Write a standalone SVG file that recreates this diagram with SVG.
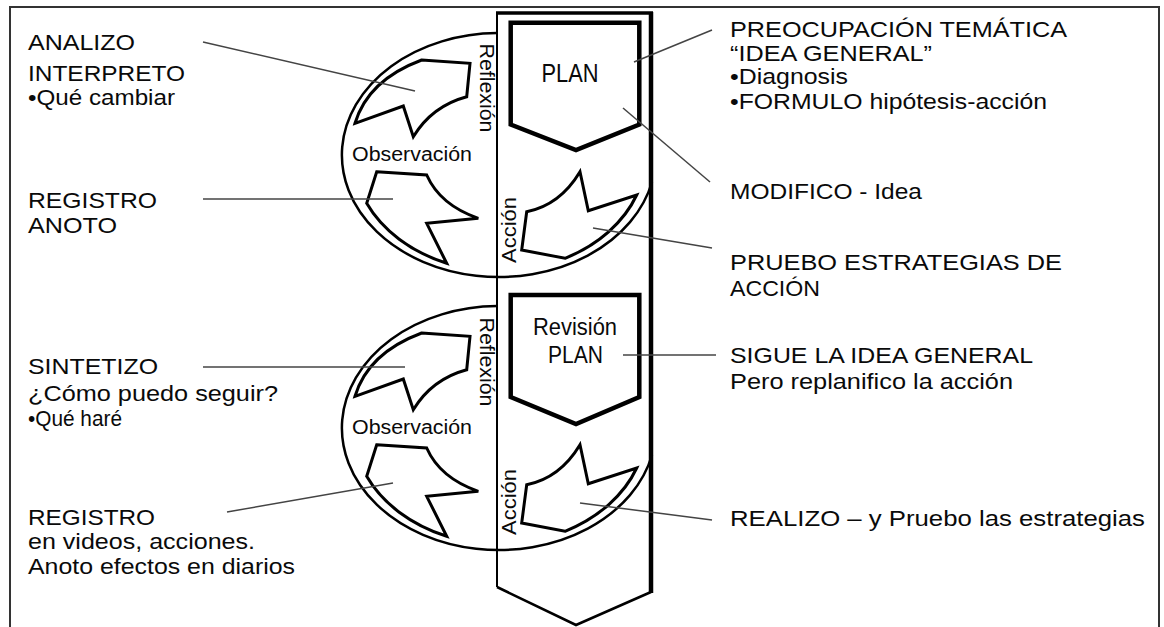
<svg xmlns="http://www.w3.org/2000/svg" width="1164" height="627" viewBox="0 0 1164 627">
<defs>
<style>
.t{font-family:"Liberation Sans",Arial,sans-serif;font-size:22px;fill:#0a0a0a}
.lbl{font-family:"Liberation Sans",Arial,sans-serif;font-size:20px;fill:#0a0a0a}
.ln{stroke:#444;stroke-width:1.5;fill:none}
.arr{fill:#fff;stroke:#000;stroke-width:3;stroke-linejoin:miter}
.ell{fill:none;stroke:#000;stroke-width:2.5}
.box{fill:#fff;stroke:#000;stroke-width:4.5;stroke-linejoin:miter}
</style>
</defs>
<rect width="1164" height="627" fill="#fff"/>
<path d="M10 627 V7 H1159 V627" fill="none" stroke="#333" stroke-width="2"/>

<g id="column">
<path d="M497 13 H651 V592 L576 625 L497 587 Z" fill="#fff" stroke="none"/>
<path d="M497 13 V587" stroke="#000" stroke-width="2" fill="none"/>
<path d="M496 13 H653" stroke="#000" stroke-width="3.5" fill="none"/>
<path d="M651 12 V593" stroke="#000" stroke-width="4.5" fill="none"/>
<path d="M497 587 L576 625 L651 592" stroke="#000" stroke-width="2.5" fill="none"/>
</g>

<g id="cycle-top">
<path class="ell" d="M497 33 A157 122 0 1 0 652 182"/>
<path class="arr" d="M421.7 60 L470 63.3 L466.7 96.7 Q432 106 413.3 136.7 L403.3 106 L355 123.3 Q368 80 421.7 60 Z"/>
<path class="arr" d="M376.7 171.7 L426.7 175 Q440 205 478.3 218.3 L426.7 223.3 L446.7 263.3 A151 116 0 0 1 366.7 203.3 Z"/>
<path class="arr" d="M580 171.7 L588.3 210.7 L636.7 195 A151 116 0 0 1 565 258.3 L521.7 250 L526.7 211.7 Q560 205 580 171.7 Z"/>
<text class="lbl" x="352" y="161" textLength="120" lengthAdjust="spacingAndGlyphs">Observación</text>
<text class="lbl" transform="translate(487 88) rotate(90)" x="0" y="7" text-anchor="middle" textLength="89" lengthAdjust="spacingAndGlyphs">Reflexión</text>
<text class="lbl" transform="translate(508.5 230) rotate(-90)" x="0" y="7" text-anchor="middle" textLength="66" lengthAdjust="spacingAndGlyphs">Acción</text>
</g>

<g id="cycle-bottom" transform="translate(0 273)">
<path class="ell" d="M497 33 A157 122 0 1 0 652 182"/>
<path class="arr" d="M421.7 60 L470 63.3 L466.7 96.7 Q432 106 413.3 136.7 L403.3 106 L355 123.3 Q368 80 421.7 60 Z"/>
<path class="arr" d="M376.7 171.7 L426.7 175 Q440 205 478.3 218.3 L426.7 223.3 L446.7 263.3 A151 116 0 0 1 366.7 203.3 Z"/>
<path class="arr" d="M580 171.7 L588.3 210.7 L636.7 195 A151 116 0 0 1 565 258.3 L521.7 250 L526.7 211.7 Q560 205 580 171.7 Z"/>
<text class="lbl" x="352" y="161" textLength="120" lengthAdjust="spacingAndGlyphs">Observación</text>
<text class="lbl" transform="translate(487 89) rotate(90)" x="0" y="7" text-anchor="middle" textLength="89" lengthAdjust="spacingAndGlyphs">Reflexión</text>
<text class="lbl" transform="translate(509 229) rotate(-90)" x="0" y="7" text-anchor="middle" textLength="66" lengthAdjust="spacingAndGlyphs">Acción</text>
</g>

<g id="plan">
<path class="box" d="M510.7 22.7 H639.3 V124.5 L576 150 L510.7 124.5 Z"/>
<text class="lbl" x="570" y="82" style="font-size:25px" text-anchor="middle" textLength="57" lengthAdjust="spacingAndGlyphs">PLAN</text>
</g>

<g id="revision-plan">
<path class="box" d="M510.7 295 H639.3 V397 L576 424 L510.7 397 Z"/>
<text class="lbl" x="575" y="335" style="font-size:23px" text-anchor="middle" textLength="84" lengthAdjust="spacingAndGlyphs">Revisión</text>
<text class="lbl" x="575.5" y="363" style="font-size:23px" text-anchor="middle" textLength="55" lengthAdjust="spacingAndGlyphs">PLAN</text>
</g>

<g id="connectors">
<path class="ln" d="M203 42 L415 91"/>
<path class="ln" d="M203 199 L393 199"/>
<path class="ln" d="M203 367 L405 367"/>
<path class="ln" d="M227 512 L393 483"/>
<path class="ln" d="M634 62 L712 30"/>
<path class="ln" d="M623 108 L710 182"/>
<path class="ln" d="M593 228 L712 248"/>
<path class="ln" d="M623 355 L716 355"/>
<path class="ln" d="M580 503 L712 520"/>
</g>

<g id="left-analizo">
<text class="t" x="28" y="50" textLength="107" lengthAdjust="spacingAndGlyphs">ANALIZO</text>
<text class="t" x="28" y="81" textLength="157" lengthAdjust="spacingAndGlyphs">INTERPRETO</text>
<text class="t" x="28" y="105" textLength="147" lengthAdjust="spacingAndGlyphs">•Qué cambiar</text>
</g>
<g id="left-registro-1">
<text class="t" x="28" y="208" textLength="129" lengthAdjust="spacingAndGlyphs">REGISTRO</text>
<text class="t" x="28" y="233" textLength="89" lengthAdjust="spacingAndGlyphs">ANOTO</text>
</g>
<g id="left-sintetizo">
<text class="t" x="28" y="374" textLength="130" lengthAdjust="spacingAndGlyphs">SINTETIZO</text>
<text class="t" x="28" y="401" textLength="250" lengthAdjust="spacingAndGlyphs">¿Cómo puedo seguir?</text>
<text class="t" x="28" y="426" textLength="94" lengthAdjust="spacingAndGlyphs">•Qué haré</text>
</g>
<g id="left-registro-2">
<text class="t" x="28" y="525" textLength="127" lengthAdjust="spacingAndGlyphs">REGISTRO</text>
<text class="t" x="28" y="549" textLength="227" lengthAdjust="spacingAndGlyphs">en videos, acciones.</text>
<text class="t" x="28" y="574" textLength="267" lengthAdjust="spacingAndGlyphs">Anoto efectos en diarios</text>
</g>

<g id="right-preocupacion">
<text class="t" x="730" y="37" textLength="337" lengthAdjust="spacingAndGlyphs">PREOCUPACIÓN TEMÁTICA</text>
<text class="t" x="730" y="61" textLength="202" lengthAdjust="spacingAndGlyphs">“IDEA GENERAL”</text>
<text class="t" x="730" y="84" textLength="118" lengthAdjust="spacingAndGlyphs">•Diagnosis</text>
<text class="t" x="730" y="109" textLength="317" lengthAdjust="spacingAndGlyphs">•FORMULO hipótesis-acción</text>
</g>
<g id="right-modifico">
<text class="t" x="730" y="199" textLength="192" lengthAdjust="spacingAndGlyphs">MODIFICO - Idea</text>
</g>
<g id="right-pruebo">
<text class="t" x="730" y="270" textLength="332" lengthAdjust="spacingAndGlyphs">PRUEBO ESTRATEGIAS DE</text>
<text class="t" x="730" y="296" textLength="90" lengthAdjust="spacingAndGlyphs">ACCIÓN</text>
</g>
<g id="right-sigue">
<text class="t" x="730" y="363" textLength="303" lengthAdjust="spacingAndGlyphs">SIGUE LA IDEA GENERAL</text>
<text class="t" x="730" y="389" textLength="283" lengthAdjust="spacingAndGlyphs">Pero replanifico la acción</text>
</g>
<g id="right-realizo">
<text class="t" x="730" y="526" textLength="415" lengthAdjust="spacingAndGlyphs">REALIZO – y Pruebo las estrategias</text>
</g>
</svg>
